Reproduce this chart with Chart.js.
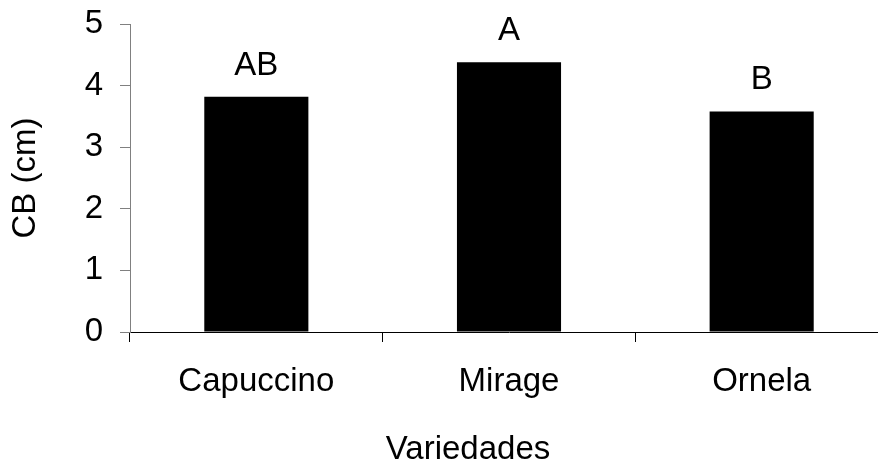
<!DOCTYPE html>
<html>
<head>
<meta charset="utf-8">
<script src="https://cdn.jsdelivr.net/npm/chart.js@4/dist/chart.umd.min.js"></script>
<style>
  html, body { margin: 0; padding: 0; overflow: hidden; background: #fff; }
  #wrap { width: 888px; height: 465px; }
</style>
</head>
<body>
<div id="wrap"><canvas id="c" width="888" height="465"></canvas></div>
<script>
// Varieties and their mean CB (cm), with the letters of the mean comparison test
const categories = ['Capuccino', 'Mirage', 'Ornela'];
const cbValues = [3.82, 4.38, 3.58];
const groupLetters = ['AB', 'A', 'B'];
const yTicks = [0, 1, 2, 3, 4, 5];

const FONT = "'Liberation Sans', Arial, sans-serif";
const FONT_SIZE = 33;

// Letters above each bar and the horizontal axis title
const annotations = {
  id: 'annotations',
  afterDatasetsDraw(chart) {
    const ctx = chart.ctx;
    const meta = chart.getDatasetMeta(0);
    ctx.save();
    ctx.fillStyle = '#000';
    ctx.font = FONT_SIZE + 'px ' + FONT;
    ctx.textAlign = 'center';
    ctx.textBaseline = 'alphabetic';
    meta.data.forEach((bar, i) => {
      ctx.fillText(groupLetters[i], bar.x, bar.y - 22);
    });
    ctx.fillText('Variedades', 468, 459);
    ctx.restore();
  }
};

new Chart(document.getElementById('c'), {
  type: 'bar',
  data: {
    labels: categories,
    datasets: [{
      data: cbValues,
      backgroundColor: '#000',
      borderWidth: 0,
      categoryPercentage: 1.0,
      barPercentage: 0.412
    }]
  },
  options: {
    responsive: false,
    animation: false,
    devicePixelRatio: 1,
    layout: { padding: { top: 24, left: 0, right: 0, bottom: 0 } },
    plugins: {
      legend: { display: false },
      tooltip: { enabled: false }
    },
    scales: {
      x: {
        offset: true,
        border: { display: true, color: '#000', width: 1 },
        grid: {
          offset: true,
          drawOnChartArea: false,
          drawTicks: true,
          tickLength: 10,
          color: '#000'
        },
        ticks: {
          color: '#000',
          padding: 20,
          font: { family: FONT, size: FONT_SIZE }
        },
        afterFit(scale) {
          scale.height = 133;
          scale.paddingLeft = 0;
          scale.paddingRight = 0;
        }
      },
      y: {
        min: 0,
        max: 5,
        afterBuildTicks(scale) { scale.ticks = yTicks.map(v => ({ value: v })); },
        border: { display: true, color: '#808080', width: 1 },
        grid: {
          drawOnChartArea: false,
          drawTicks: true,
          tickLength: 10,
          color: '#808080'
        },
        ticks: {
          color: '#000',
          padding: 17,
          font: { family: FONT, size: FONT_SIZE }
        },
        title: {
          display: true,
          text: 'CB (cm)',
          color: '#000',
          padding: { top: 6, bottom: 0 },
          font: { family: FONT, size: FONT_SIZE }
        },
        afterFit(scale) {
          scale.width = 130;
          scale.paddingTop = 0;
          scale.paddingBottom = 0;
        }
      }
    }
  },
  plugins: [annotations]
});
</script>
</body>
</html>
